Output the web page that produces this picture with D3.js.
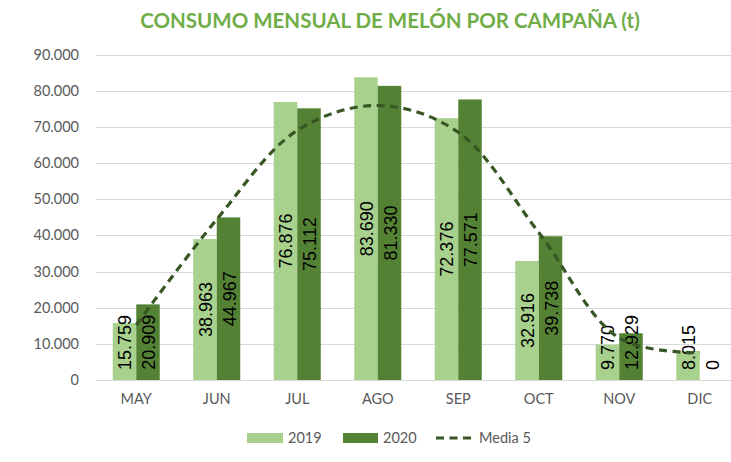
<!DOCTYPE html>
<html>
<head>
<meta charset="utf-8">
<script src="https://cdn.jsdelivr.net/npm/d3@7"></script>
<style>
html,body{margin:0;padding:0;background:#fff;}
svg{display:block;}
</style>
</head>
<body>
<svg id="chart" width="731" height="462"></svg>
<script>
const categories = ["MAY","JUN","JUL","AGO","SEP","OCT","NOV","DIC"];
const seriesNames = ["2019","2020"];
const values2019 = [15759,38963,76876,83690,72376,32916,9770,8015];
const values2020 = [20909,44967,75112,81330,77571,39738,12929,0];
const media5 = [15200,44400,69000,75900,68500,40800,11600,7500];
const yTicks = [0,10000,20000,30000,40000,50000,60000,70000,80000,90000];
const titleText = "CONSUMO MENSUAL DE MELÓN POR CAMPAÑA (t)";
const mediaName = "Media 5";

const colors = {"2019":"#A9D18E","2020":"#548235"};
const lineColor = "#375623";

const loc = d3.formatLocale({decimal:",", thousands:".", grouping:[3], currency:["",""]});
const fmt = loc.format(",d");

const svg = d3.select("#chart");
const W = 731, H = 462;
svg.append("rect").attr("width",W).attr("height",H).attr("fill","#fff");

const x0 = d3.scaleBand().domain(categories).range([96,740]).paddingInner(0.416).paddingOuter(0.208);
const x1 = d3.scaleBand().domain(seriesNames).range([0,x0.bandwidth()]);
const y = d3.scaleLinear().domain([0,90000]).range([380,54.5]);

// title
svg.append("text").attr("x",390).attr("y",28).attr("text-anchor","middle")
  .attr("font-family","Lato, 'Open Sans', sans-serif").attr("font-weight","bold")
  .attr("font-size","20.5px").attr("fill","#70AD47").text(titleText);

// gridlines
const grid = svg.append("g").attr("class","grid");
grid.selectAll("line").data(yTicks).join("line")
  .attr("x1",96).attr("x2",740)
  .attr("y1",d=>Math.round(y(d))+0.5).attr("y2",d=>Math.round(y(d))+0.5)
  .attr("stroke","#D9D9D9").attr("stroke-width",1);

// y axis labels
const yAxis = d3.axisLeft(y).tickValues(yTicks).tickFormat(fmt).tickSize(0).tickPadding(0);
const gy = svg.append("g").attr("transform","translate(79,0)").call(yAxis);
gy.select(".domain").remove();
gy.selectAll("text").attr("font-family","Lato, sans-serif").attr("font-size","14.5px").attr("fill","#595959");

// x axis labels
const xAxis = d3.axisBottom(x0).tickSize(0).tickPadding(0);
const gx = svg.append("g").attr("transform","translate(0,394)").call(xAxis);
gx.select(".domain").remove();
gx.selectAll("text").attr("font-family","Lato, sans-serif").attr("font-size","14.5px").attr("fill","#595959").attr("dy","0.71em");

// bars
const data = categories.map((c,i)=>({cat:c, vals:[{s:"2019",v:values2019[i]},{s:"2020",v:values2020[i]}]}));
const groups = svg.append("g").selectAll("g").data(data).join("g")
  .attr("transform",d=>`translate(${x0(d.cat)},0)`);
groups.selectAll("rect").data(d=>d.vals).join("rect")
  .attr("x",d=>x1(d.s)).attr("width",x1.bandwidth())
  .attr("y",d=>y(d.v)).attr("height",d=>y(0)-y(d.v))
  .attr("fill",d=>colors[d.s]);

// data labels
const fsLab = 18;
groups.selectAll("text.lab").data(d=>d.vals).join("text").attr("class","lab")
  .each(function(d){
    const t = d3.select(this).text(fmt(d.v))
      .attr("font-family","'Liberation Sans', Arial, sans-serif").attr("font-size",fsLab+"px").attr("fill","#000");
    const len = this.getComputedTextLength();
    let cy = (y(d.v)+y(0))/2;
    const maxBottom = y(0)-10;
    if (cy + len/2 > maxBottom) cy = maxBottom - len/2;
    const cx = x1(d.s)+x1.bandwidth()/2;
    t.attr("text-anchor","middle").attr("dominant-baseline","central")
     .attr("transform",`translate(${cx+1},${cy}) rotate(-90)`);
  });

// media line
const line = d3.line().x((d,i)=>x0(categories[i])+x0.bandwidth()/2).y(d=>y(d)).curve(d3.curveCatmullRom.alpha(0.5));
svg.append("path").datum(media5).attr("d",line).attr("fill","none")
  .attr("stroke",lineColor).attr("stroke-width",3.2).attr("stroke-dasharray","8,5.5");

// legend
const lg = svg.append("g");
lg.append("rect").attr("x",247).attr("y",433).attr("width",36).attr("height",10).attr("fill",colors["2019"]);
lg.append("text").attr("x",288).attr("y",443).text("2019");
lg.append("rect").attr("x",343).attr("y",433).attr("width",35).attr("height",10).attr("fill",colors["2020"]);
lg.append("text").attr("x",383).attr("y",443).text("2020");
lg.append("line").attr("x1",436).attr("x2",472).attr("y1",438).attr("y2",438)
  .attr("stroke",lineColor).attr("stroke-width",3.2).attr("stroke-dasharray","8,5.5");
lg.append("text").attr("x",479).attr("y",443).text(mediaName);
lg.selectAll("text").attr("font-family","Lato, sans-serif").attr("font-size","14.5px").attr("fill","#595959");
</script>
</body>
</html>
